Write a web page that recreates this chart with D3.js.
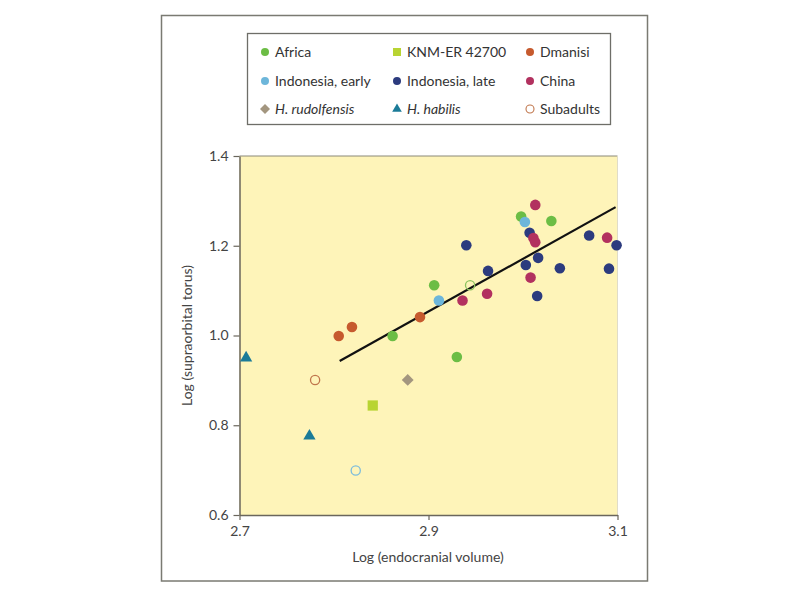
<!DOCTYPE html>
<html><head><meta charset="utf-8">
<script src="https://cdn.jsdelivr.net/npm/d3@7"></script>
<style>body{margin:0;background:#fff;} svg{display:block;}</style>
</head><body>
<svg id="c" width="804" height="604"></svg>
<script>
// ---- data ----
const xTicks = [2.7, 2.9, 3.1];
const yTicks = [0.6, 0.8, 1.0, 1.2, 1.4];
const africaX = [2.998, 3.030, 2.906, 2.862, 2.930];
const africaY = [1.265, 1.255, 1.112, 0.999, 0.952];
const indoEarlyX = [3.002, 2.911];
const indoEarlyY = [1.253, 1.078];
const indoLateX = [2.940, 3.007, 2.963, 3.003, 3.016, 3.015, 3.039, 3.070, 3.091, 3.099];
const indoLateY = [1.201, 1.229, 1.144, 1.157, 1.173, 1.088, 1.150, 1.223, 1.149, 1.201];
const chinaX = [3.013, 3.011, 3.013, 3.008, 2.962, 2.936, 3.089];
const chinaY = [1.291, 1.217, 1.208, 1.129, 1.093, 1.078, 1.218];
const dmanisiX = [2.805, 2.819, 2.891];
const dmanisiY = [0.999, 1.019, 1.041];
const knmX = [2.841];
const knmY = [0.844];
const rudolfensisX = [2.878];
const rudolfensisY = [0.901];
const habilisX = [2.707, 2.774];
const habilisY = [0.950, 0.776];
const subadultX = [2.944, 2.780, 2.823];
const subadultY = [1.112, 0.901, 0.699];
const subadultGroup = ["Africa", "Dmanisi", "Indonesia, early"];
const fitX = [2.806, 3.098];
const fitY = [0.943, 1.286];
const legendLabels = ["Africa", "KNM-ER 42700", "Dmanisi", "Indonesia, early", "Indonesia, late", "China", "H. rudolfensis", "H. habilis", "Subadults"];

const colors = {
  "Africa": "#6cbd45", "KNM-ER 42700": "#b8d433", "Dmanisi": "#c65a2e",
  "Indonesia, early": "#6db6da", "Indonesia, late": "#2c3b7e", "China": "#b2315f",
  "H. rudolfensis": "#a3967f", "H. habilis": "#1b7b98", "Subadults": "#c0764c"
};
const subStroke = {"Africa": "#8cc25e", "Dmanisi": "#c0764c", "Indonesia, early": "#7cbcdc"};

const svg = d3.select("#c");
const font = "Lato, 'Open Sans', sans-serif";

// outer frame
svg.append("rect").attr("x", 161.5).attr("y", 15.5).attr("width", 486).attr("height", 565.5)
  .attr("fill", "#fff").attr("stroke", "#7a7a72").attr("stroke-width", 1.5);

const L = 239.5, R = 617.5, T = 156, B = 515;
const x = d3.scaleLinear().domain([2.7, 3.1]).range([L, R]);
const y = d3.scaleLinear().domain([0.6, 1.4]).range([B, T]);

// plot background
svg.append("rect").attr("x", L).attr("y", T).attr("width", R - L).attr("height", B - T)
  .attr("fill", "#fef4b9");
svg.append("line").attr("x1", L).attr("x2", R).attr("y1", T).attr("y2", T).attr("stroke", "#8a8878").attr("stroke-width", 1);
svg.append("line").attr("x1", R).attr("x2", R).attr("y1", T).attr("y2", B).attr("stroke", "#e0dcc8").attr("stroke-width", 1);

// axes
const xAxis = d3.axisBottom(x).tickValues(xTicks).tickFormat(d3.format(".1f")).tickSize(5).tickSizeOuter(0);
const yAxis = d3.axisLeft(y).tickValues(yTicks).tickFormat(d3.format(".1f")).tickSize(6).tickSizeOuter(0);
const gx = svg.append("g").attr("transform", `translate(0,${B})`).call(xAxis);
const gy = svg.append("g").attr("transform", `translate(${L},0)`).call(yAxis);
[gx, gy].forEach(g => {
  g.select(".domain").attr("stroke", "#6a665c").attr("stroke-width", 1.5);
  g.selectAll(".tick line").attr("stroke", "#6a665c").attr("stroke-width", 1.2);
  g.selectAll(".tick text").attr("fill", "#444").style("font-family", font).style("font-size", "14px");
});
gx.selectAll(".tick text").attr("dy", "0.95em");
gy.selectAll(".tick text").attr("x", -11);

// axis titles
svg.append("text").attr("x", 428).attr("y", 562).attr("text-anchor", "middle")
  .style("font-family", font).style("font-size", "14px").attr("fill", "#444").text("Log (endocranial volume)");
svg.append("text").attr("transform", `translate(192,${(T + B) / 2}) rotate(-90)`).attr("text-anchor", "middle")
  .style("font-family", font).style("font-size", "14px").attr("fill", "#444").text("Log (supraorbital torus)");

// regression line
svg.append("line").attr("x1", x(fitX[0])).attr("y1", y(fitY[0])).attr("x2", x(fitX[1])).attr("y2", y(fitY[1]))
  .attr("stroke", "#111").attr("stroke-width", 2.2);

const zip = (xs, ys) => xs.map((v, i) => [v, ys[i]]);
const R0 = 5.3;
function circles(xs, ys, name) {
  svg.append("g").selectAll("circle").data(zip(xs, ys)).join("circle")
    .attr("cx", d => x(d[0])).attr("cy", d => y(d[1])).attr("r", R0).attr("fill", colors[name]);
}
circles(africaX, africaY, "Africa");
circles(dmanisiX, dmanisiY, "Dmanisi");
circles(indoLateX, indoLateY, "Indonesia, late");
circles(chinaX, chinaY, "China");
circles(indoEarlyX, indoEarlyY, "Indonesia, early");

svg.append("g").selectAll("circle").data(zip(subadultX, subadultY)).join("circle")
  .attr("cx", d => x(d[0])).attr("cy", d => y(d[1])).attr("r", 4.6).attr("fill", "none")
  .attr("stroke", (d, i) => subStroke[subadultGroup[i]]).attr("stroke-width", 1.3);

const sym = (type, size) => d3.symbol().type(type).size(size)();
svg.append("g").selectAll("path").data(zip(knmX, knmY)).join("path")
  .attr("d", sym(d3.symbolSquare, 105)).attr("transform", d => `translate(${x(d[0])},${y(d[1])})`)
  .attr("fill", colors["KNM-ER 42700"]);
svg.append("g").selectAll("path").data(zip(rudolfensisX, rudolfensisY)).join("path")
  .attr("d", sym(d3.symbolSquare, 70)).attr("transform", d => `translate(${x(d[0])},${y(d[1])}) rotate(45)`)
  .attr("fill", colors["H. rudolfensis"]);
svg.append("g").selectAll("path").data(zip(habilisX, habilisY)).join("path")
  .attr("d", sym(d3.symbolTriangle, 65)).attr("transform", d => `translate(${x(d[0])},${y(d[1])})`)
  .attr("fill", colors["H. habilis"]);

// legend
svg.append("rect").attr("x", 247.5).attr("y", 33.5).attr("width", 363).attr("height", 91)
  .attr("fill", "#fff").attr("stroke", "#6e6e68").attr("stroke-width", 1.3);
const colX = [265, 397, 530];
const rowY = [52, 81, 109];
legendLabels.forEach((lab, i) => {
  const cx = colX[i % 3], cy = rowY[Math.floor(i / 3)];
  const g = svg.append("g").attr("transform", `translate(${cx},${cy})`);
  if (lab === "KNM-ER 42700") g.append("path").attr("d", sym(d3.symbolSquare, 64)).attr("fill", colors[lab]);
  else if (lab === "H. rudolfensis") g.append("path").attr("d", sym(d3.symbolSquare, 50)).attr("transform", "rotate(45)").attr("fill", colors[lab]);
  else if (lab === "H. habilis") g.append("path").attr("d", sym(d3.symbolTriangle, 40)).attr("fill", colors[lab]);
  else if (lab === "Subadults") g.append("circle").attr("r", 4).attr("fill", "none").attr("stroke", colors[lab]).attr("stroke-width", 1.1);
  else g.append("circle").attr("r", 4).attr("fill", colors[lab]);
  g.append("text").attr("x", 10).attr("y", 5).style("font-family", font).style("font-size", "14px")
    .style("font-style", lab.startsWith("H.") ? "italic" : "normal").attr("fill", "#333").text(lab);
});
</script>
</body></html>
